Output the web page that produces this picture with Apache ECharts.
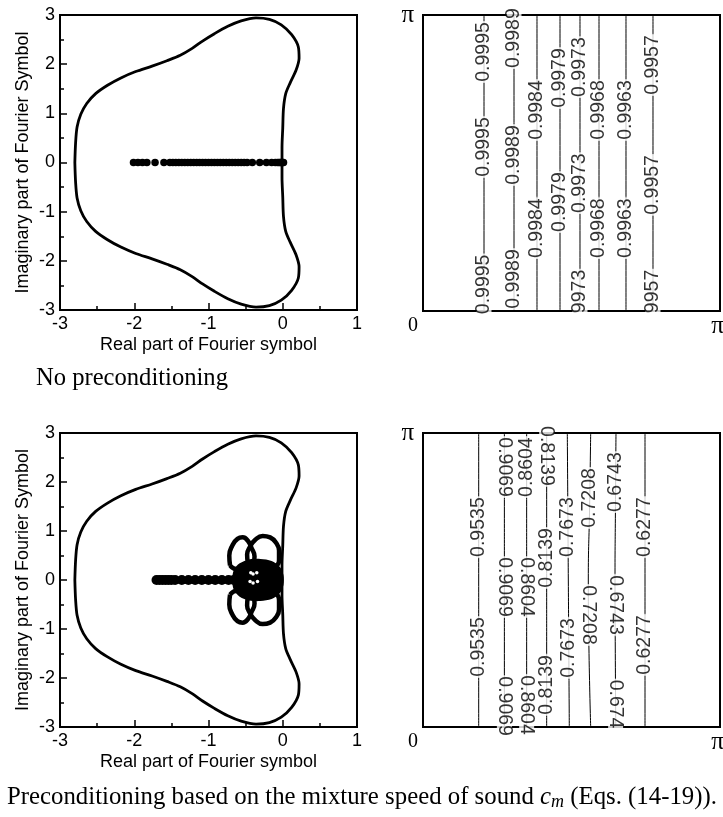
<!DOCTYPE html>
<html><head><meta charset="utf-8">
<script src="https://cdn.jsdelivr.net/npm/echarts@6/dist/echarts.min.js"></script>
<style>html,body{margin:0;padding:0;background:#fff}#c{width:723px;height:817px}</style>
</head><body><div id="c"></div>
<script>
// ---------- data ----------
// closed boundary curve of the Fourier symbol (same in both left panels)
const curvePts = [
  [-2.80,0.00],[-2.79,0.40],[-2.77,0.72],[-2.72,0.98],[-2.64,1.20],[-2.52,1.40],[-2.36,1.57],
  [-2.18,1.72],[-1.98,1.85],[-1.76,1.96],[-1.56,2.07],[-1.38,2.18],[-1.22,2.32],[-1.08,2.47],
  [-0.92,2.62],[-0.74,2.77],[-0.56,2.88],[-0.36,2.94],[-0.18,2.91],[-0.02,2.80],[0.12,2.60],
  [0.21,2.35],[0.22,2.12],[0.18,1.88],[0.10,1.62],[0.04,1.40],[0.01,1.10],[0.00,0.70],
  [-0.01,0.30],[-0.01,0.00],[-0.01,-0.30],[0.00,-0.70],[0.01,-1.10],[0.04,-1.40],[0.10,-1.62],
  [0.18,-1.88],[0.22,-2.12],[0.21,-2.35],[0.12,-2.60],[-0.02,-2.80],[-0.18,-2.91],[-0.36,-2.94],
  [-0.56,-2.88],[-0.74,-2.77],[-0.92,-2.62],[-1.08,-2.47],[-1.22,-2.32],[-1.38,-2.18],[-1.56,-2.07],
  [-1.76,-1.96],[-1.98,-1.85],[-2.18,-1.72],[-2.36,-1.57],[-2.52,-1.40],[-2.64,-1.20],[-2.72,-0.98],
  [-2.77,-0.72],[-2.79,-0.40],[-2.80,0.00]
];
// eigenvalues on the real axis, no preconditioning
const dotsTopX = [-2.01,-1.95,-1.89,-1.83,-1.72,-1.60,-1.52,-1.48,-1.44,-1.40,-1.36,-1.32,-1.28,-1.24,
  -1.20,-1.16,-1.12,-1.08,-1.04,-1.00,-0.96,-0.92,-0.88,-0.84,-0.80,-0.76,-0.72,-0.68,-0.64,-0.60,
  -0.56,-0.52,-0.48,-0.41,-0.31,-0.22,-0.15,-0.10,-0.07,-0.05,-0.03,-0.02,-0.01,0.00,0.01];
// preconditioned: tail on real axis
const tailX = [-1.70,-1.66,-1.62,-1.58,-1.54,-1.50,-1.45,-1.36,-1.27,-1.18,-1.09,-1.00,-0.91,-0.82,-0.73,-0.66];
// preconditioned: loops and central cluster
const loopUL = [[-0.71,0.30],[-0.72,0.50],[-0.68,0.70],[-0.61,0.84],[-0.54,0.87],[-0.47,0.80],[-0.42,0.65],[-0.38,0.48],[-0.40,0.32],[-0.50,0.22],[-0.62,0.22],[-0.71,0.30]];
const loopUR = [[-0.47,0.35],[-0.48,0.52],[-0.44,0.68],[-0.37,0.82],[-0.27,0.90],[-0.17,0.87],[-0.09,0.76],[-0.05,0.60],[-0.05,0.42],[-0.10,0.27],[-0.22,0.20],[-0.38,0.24],[-0.47,0.35]];
const loopLL = [[-0.71,-0.30],[-0.72,-0.50],[-0.68,-0.70],[-0.61,-0.84],[-0.54,-0.87],[-0.47,-0.80],[-0.42,-0.65],[-0.38,-0.48],[-0.40,-0.32],[-0.50,-0.22],[-0.62,-0.22],[-0.71,-0.30]];
const loopLR = [[-0.47,-0.35],[-0.48,-0.52],[-0.44,-0.68],[-0.37,-0.82],[-0.27,-0.90],[-0.17,-0.87],[-0.09,-0.76],[-0.05,-0.60],[-0.05,-0.42],[-0.10,-0.27],[-0.22,-0.20],[-0.38,-0.24],[-0.47,-0.35]];
const blobPts = [[-0.68,0.00],[-0.66,0.20],[-0.58,0.34],[-0.45,0.42],[-0.30,0.43],[-0.15,0.39],[-0.04,0.27],[0.01,0.10],
  [0.01,-0.10],[-0.04,-0.27],[-0.15,-0.39],[-0.30,-0.43],[-0.45,-0.42],[-0.58,-0.34],[-0.66,-0.20]];
const blobHoles = [[-0.43,0.15],[-0.40,0.12],[-0.35,0.15],[-0.44,-0.03],[-0.40,-0.06],[-0.34,-0.03]];

// contour panels: x in units of pi, sampled at these y (units of pi)
const contourYs = [0, 0.25, 0.5, 0.75, 1];
// top-right (no preconditioning)
const trLevels = ['0.9995','0.9989','0.9984','0.9979','0.9973','0.9968','0.9963','0.9957'];
const trLineX = [
  [0.2054,0.2054,0.2054,0.2054,0.2054],[0.3064,0.3064,0.3064,0.3064,0.3064],
  [0.3838,0.3838,0.3838,0.3838,0.3838],[0.4613,0.4613,0.4613,0.4613,0.4613],
  [0.5286,0.5286,0.5286,0.5286,0.5286],[0.5926,0.5926,0.5926,0.5926,0.5926],
  [0.6835,0.6835,0.6835,0.6835,0.6835],[0.7744,0.7744,0.7744,0.7744,0.7744]];
const trLabelY = [[0.875,0.554,0.090],[0.922,0.527,0.108],[0.679,0.280],[0.787,0.368],
  [0.824,0.432,0.066],[0.679,0.280],[0.679,0.280],[0.831,0.426,0.066]];
const trLabelText = [['0.9995','0.9995','0.9995'],['0.9989','0.9989','0.9989'],['0.9984','0.9984'],['0.9979','0.9979'],
  ['0.9973','0.9973','9973'],['0.9968','0.9968'],['0.9963','0.9963'],['0.9957','0.9957','9957']];
const trLabelRot = [[90,90,90],[90,90,90],[90,90],[90,90],[90,90,90],[90,90],[90,90],[90,90,90]];
// bottom-right (preconditioned)
const brLevels = ['0.9535','0.9069','0.8604','0.8139','0.7673','0.7208','0.6743','0.6277'];
const brLineX = [
  [0.1875,0.1875,0.1875,0.1875,0.1875],[0.2740,0.2740,0.2740,0.2740,0.2740],
  [0.3490,0.3490,0.3490,0.3490,0.3490],[0.4164,0.4164,0.4164,0.4164,0.4164],
  [0.4926,0.4910,0.4893,0.4876,0.4859],[0.5646,0.5590,0.5566,0.5610,0.5646],
  [0.6490,0.6475,0.6465,0.6480,0.6498],[0.7475,0.7475,0.7475,0.7475,0.7475]];
const brLabelY = [[0.680,0.272],[0.884,0.476,0.071],[0.884,0.476,0.075],[0.922,0.575,0.143],
  [0.680,0.269],[0.779,0.381],[0.833,0.415,0.078],[0.680,0.279]];
const brLabelText = [['0.9535','0.9535'],['0.9069','0.9069','0.9069'],['0.8604','0.8604','0.8604'],
  ['0.8139','0.8139','0.8139'],['0.7673','0.7673'],['0.7208','0.7208'],['0.6743','0.6743','0.674'],['0.6277','0.6277']];
const brLabelRot = [[90,90],[-90,-90,-90],[90,-90,-90],[-90,90,90],[90,90],[90,-90],[90,-90,-90],[90,90]];

const xTitle = 'Real part of Fourier symbol';
const yTitle = 'Imaginary part of Fourier Symbol';

// ---------- chart ----------
const SANS = "'Liberation Sans', Arial, Helvetica, sans-serif";
const SERIF = "'Liberation Serif', 'Times New Roman', Times, serif";

function interp(xs, y) {
  for (let i = 0; i < contourYs.length - 1; i++) {
    if (y >= contourYs[i] && y <= contourYs[i + 1]) {
      const t = (y - contourYs[i]) / (contourYs[i + 1] - contourYs[i]);
      return xs[i] + t * (xs[i + 1] - xs[i]);
    }
  }
  return xs[xs.length - 1];
}

const grids = [
  {left: 60, top: 15, width: 297, height: 295},
  {left: 423, top: 15, width: 297, height: 296},
  {left: 60, top: 433, width: 297, height: 294},
  {left: 423, top: 433, width: 297, height: 294}
].map(g => Object.assign(g, {show: true, borderColor: '#000', borderWidth: 2, backgroundColor: 'transparent',
  containLabel: false, outerBoundsMode: 'none'}));

const blackLine = {color: '#000', width: 2};
function fourierX(gi) {
  return {gridIndex: gi, type: 'value', min: -3, max: 1, interval: 1,
    name: xTitle, nameLocation: 'middle', nameGap: 26,
    nameTextStyle: {fontFamily: SANS, fontSize: 18, color: '#000'},
    axisLine: {show: true, onZero: false, lineStyle: blackLine},
    axisTick: {show: true, inside: true, length: 7, lineStyle: {color: '#000', width: 1.5}},
    minorTick: {show: true, splitNumber: 2, length: 4, lineStyle: {color: '#000', width: 1.5}},
    axisLabel: {fontFamily: SANS, fontSize: 18, color: '#000', margin: 5},
    splitLine: {show: false}, minorSplitLine: {show: false}};
}
function fourierY(gi) {
  return {gridIndex: gi, type: 'value', min: -3, max: 3, interval: 1,
    name: yTitle, nameLocation: 'middle', nameGap: 28,
    nameTextStyle: {fontFamily: SANS, fontSize: 18, color: '#000'},
    axisLine: {show: true, onZero: false, lineStyle: blackLine},
    axisTick: {show: true, inside: true, length: 7, lineStyle: {color: '#000', width: 1.5}},
    minorTick: {show: true, splitNumber: 2, length: 4, lineStyle: {color: '#000', width: 1.5}},
    axisLabel: {fontFamily: SANS, fontSize: 18, color: '#000', margin: 5},
    splitLine: {show: false}, minorSplitLine: {show: false}};
}
const piRich = {p: {fontFamily: SERIF, fontSize: 25, lineHeight: 20, color: '#000'}};
function piX(gi) {
  return {gridIndex: gi, type: 'value', min: 0, max: 1, interval: 1,
    axisLine: {show: true, onZero: false, lineStyle: blackLine},
    axisTick: {show: false}, splitLine: {show: false},
    axisLabel: {fontFamily: SERIF, fontSize: 20, lineHeight: 20, color: '#000', margin: 5,
      formatter: v => (v === 0 ? '0' : '{p|π}'), rich: piRich,
      alignMinLabel: 'right', alignMaxLabel: 'center', padding: [0, 5, 0, 0]}};
}
function piY(gi) {
  return {gridIndex: gi, type: 'value', min: 0, max: 1, interval: 1,
    axisLine: {show: true, onZero: false, lineStyle: blackLine},
    axisTick: {show: false}, splitLine: {show: false},
    axisLabel: {fontFamily: SERIF, fontSize: 20, lineHeight: 20, color: '#000', margin: 9,
      formatter: v => (v === 1 ? '{p|π}' : ''), rich: piRich}};
}

const series = [];
// left panels: boundary curve
[0, 2].forEach(gi => {
  series.push({type: 'line', xAxisIndex: gi, yAxisIndex: gi, data: curvePts, smooth: 0.3,
    showSymbol: false, lineStyle: {color: '#000', width: 2.8}, silent: true, z: 3});
});
series.push({type: 'scatter', xAxisIndex: 0, yAxisIndex: 0, data: dotsTopX.map(x => [x, 0]),
  symbolSize: 7.5, itemStyle: {color: '#000', opacity: 1}, silent: true, z: 4});
// bottom-left cluster
series.push({type: 'custom', xAxisIndex: 2, yAxisIndex: 2, data: blobPts, silent: true, z: 4,
  renderItem: (params, api) => {
    if (params.dataIndex !== 0) return null;
    return {type: 'polygon', shape: {points: blobPts.map(p => api.coord(p)), smooth: 0.3},
      style: {fill: '#000'}};
  }});
[loopUL, loopUR, loopLL, loopLR].forEach(lp => {
  series.push({type: 'line', xAxisIndex: 2, yAxisIndex: 2, data: lp, smooth: 0.5, showSymbol: false,
    lineStyle: {color: '#000', width: 4.5}, silent: true, z: 4});
});
series.push({type: 'scatter', xAxisIndex: 2, yAxisIndex: 2, data: tailX.map(x => [x, 0]),
  symbolSize: 10, itemStyle: {color: '#000', opacity: 1}, silent: true, z: 4});
series.push({type: 'scatter', xAxisIndex: 2, yAxisIndex: 2, data: blobHoles,
  symbolSize: 3.5, itemStyle: {color: '#fff', opacity: 1}, silent: true, z: 5});

// contour panels
function addContours(gi, lineX, labY, labTxt, labRot) {
  lineX.forEach(xs => {
    series.push({type: 'line', xAxisIndex: gi, yAxisIndex: gi, data: contourYs.map((y, i) => [xs[i], y]),
      smooth: true, showSymbol: false, lineStyle: {color: '#000', width: 1}, silent: true, z: 2});
  });
  const items = [];
  lineX.forEach((xs, k) => {
    labY[k].forEach((y, j) => {
      items.push({value: [interp(xs, y), y],
        label: {formatter: labTxt[k][j], rotate: labRot[k][j]}});
    });
  });
  series.push({type: 'scatter', xAxisIndex: gi, yAxisIndex: gi, data: items, symbolSize: 1,
    itemStyle: {color: 'rgba(0,0,0,0)'}, silent: true, z: 6,
    label: {show: true, position: 'inside', fontFamily: SANS, fontSize: 19.5, color: '#000',
      backgroundColor: '#fff', lineHeight: 15, padding: [0, 1, 0, 1]}});
}
addContours(1, trLineX, trLabelY, trLabelText, trLabelRot);
addContours(3, brLineX, brLabelY, brLabelText, brLabelRot);

const option = {
  animation: false,
  backgroundColor: '#fff',
  grid: grids,
  xAxis: [fourierX(0), piX(1), fourierX(2), piX(3)],
  yAxis: [fourierY(0), piY(1), fourierY(2), piY(3)],
  title: [
    {text: 'No preconditioning', left: 36, top: 366, padding: 0,
      textStyle: {fontFamily: SERIF, fontSize: 24.6, fontWeight: 'normal', color: '#000'}},
    {text: 'Preconditioning based on the mixture speed of sound {c|c}{m|m} (Eqs. (14-19)).', left: 7, top: 783, padding: 0,
      textStyle: {fontFamily: SERIF, fontSize: 24.8, fontWeight: 'normal', color: '#000', lineHeight: 28,
        rich: {
          c: {fontFamily: SERIF, fontSize: 24.8, fontStyle: 'italic', color: '#000', lineHeight: 28},
          m: {fontFamily: SERIF, fontSize: 18, fontStyle: 'italic', color: '#000', lineHeight: 14, verticalAlign: 'bottom'}
        }}}
  ],
  series: series
};
const chart = echarts.init(document.getElementById('c'), null, {renderer: 'canvas'});
chart.setOption(option);
</script></body></html>
